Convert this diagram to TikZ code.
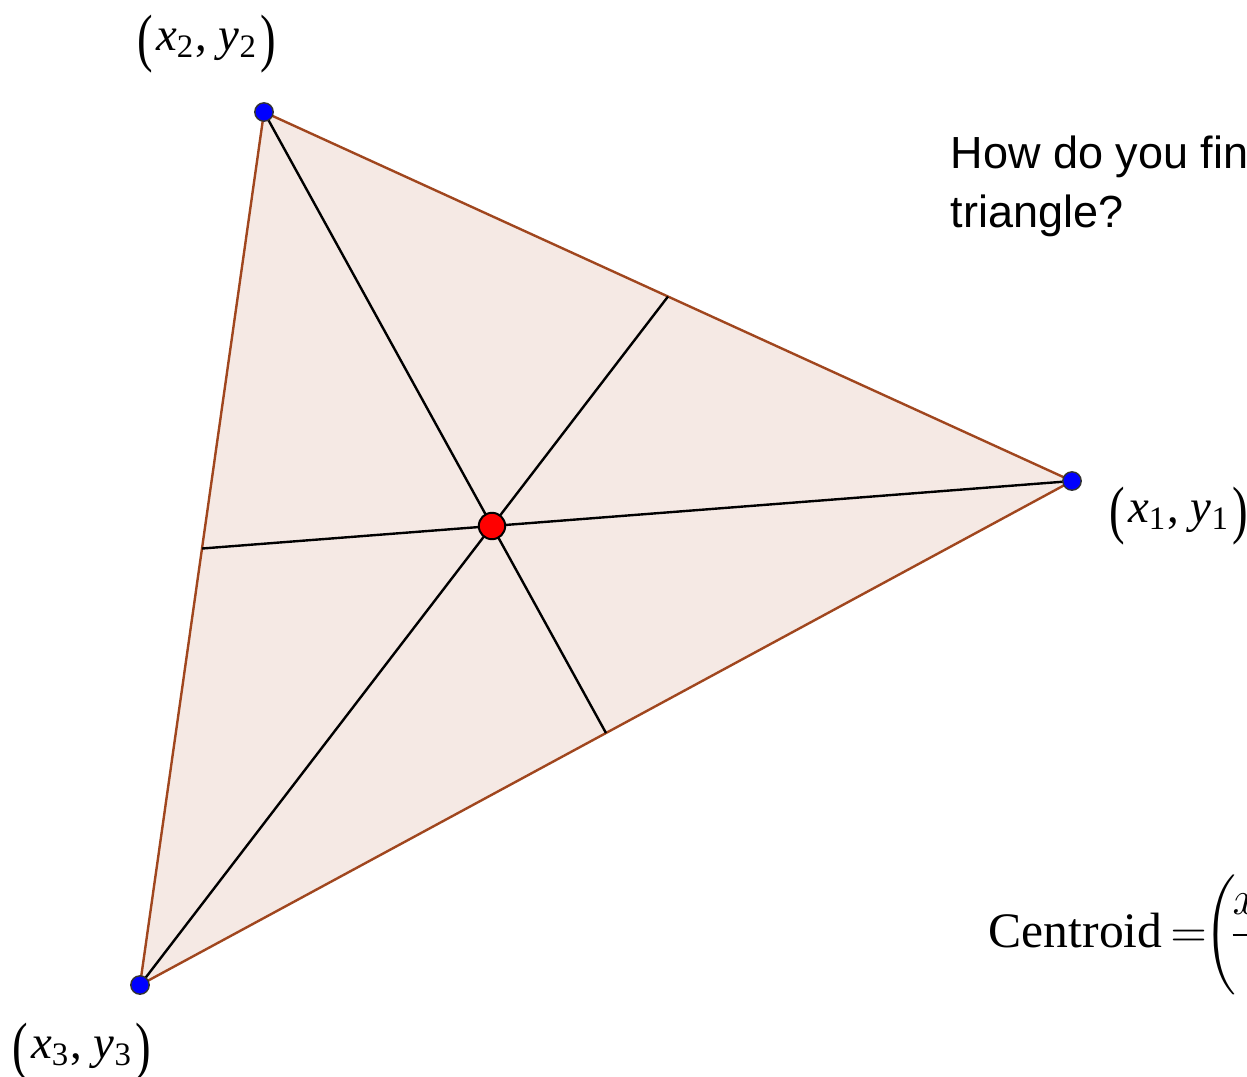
\documentclass[tikz,border=0pt]{standalone}
\usepackage{graphicx}
\usepackage{fontspec}
\setmainfont{Liberation Serif}
\newfontfamily\arialfont{Liberation Sans}
\usetikzlibrary{calc}
\definecolor{edgec}{HTML}{A0461E}
\definecolor{fillc}{HTML}{F5E9E4}
\newcommand{\tallparen}[1]{\raisebox{-0.2em}{\scalebox{1}[1.37]{#1}}}
\newcommand{\ptlabel}[1]{\tallparen{(}\kern0.06em\textit{x}\textsubscript{#1}, \textit{y}\textsubscript{#1}\kern0.06em\tallparen{)}}
\tikzset{
  edge/.style={draw=edgec, line width=0.6pt},
  median/.style={draw=black, line width=0.6pt},
  vdot/.style={circle, fill=blue, draw=black!80, line width=0.35pt, inner sep=0pt, minimum size=4.6pt},
  cdot/.style={circle, fill=red, draw=black, line width=0.5pt, inner sep=0pt, minimum size=6.6pt},
  lbl/.style={font=\fontsize{11.7}{14}\selectfont, inner sep=0pt, anchor=base west},
  question/.style={font=\arialfont\fontsize{11.25}{14.5}\selectfont, inner sep=0pt, anchor=base west}
}
\begin{document}
\begin{tikzpicture}[x=0.25pt, y=-0.25pt]
\useasboundingbox (0,0) rectangle (1247,1076);
\clip (0,0) rectangle (1247,1076);
% vertices
\coordinate (P1) at (1072,481);
\coordinate (P2) at (264,112);
\coordinate (P3) at (140,985);
\coordinate (M12) at ($(P1)!0.5!(P2)$);
\coordinate (M13) at ($(P1)!0.5!(P3)$);
\coordinate (M23) at ($(P2)!0.5!(P3)$);
% triangle
\fill[fillc] (P1) -- (P2) -- (P3) -- cycle;
\draw[edge] (P1) -- (P2);
\draw[edge] (P2) -- (P3);
\draw[edge] (P3) -- (P1);
% medians
\draw[median] (P1) -- (M23);
\draw[median] (P2) -- (M13);
\draw[median] (P3) -- (M12);
% points
\node[vdot] (V1) at (P1) {};
\node[vdot] (V2) at (P2) {};
\node[vdot] (V3) at (P3) {};
\node[cdot] (G) at ($1/3*(P1)+1/3*(P2)+1/3*(P3)$) {};
% labels
\node[lbl] (L2) at (137,50) {\ptlabel{2}};
\node[lbl] (L1) at (1109,522) {\ptlabel{1}};
\node[lbl] (L3) at (12,1058) {\ptlabel{3}};
% question
\node[question] (Q1) at (950,168) {How do you find the centroid of a};
\node[question] (Q2) at (950,227) {triangle?};
% formula
\node[inner sep=0pt, anchor=base west, font=\fontsize{12.4}{15}\selectfont] (F) at (988,947)
  {Centroid\kern0.16em$=\mkern-6mu\left(\rule[-0.97em]{0pt}{2.44em}\mkern-3mu\displaystyle\frac{x_1+x_2+x_3}{3},\ \frac{y_1+y_2+y_3}{3}\right)$};
\end{tikzpicture}
\end{document}
